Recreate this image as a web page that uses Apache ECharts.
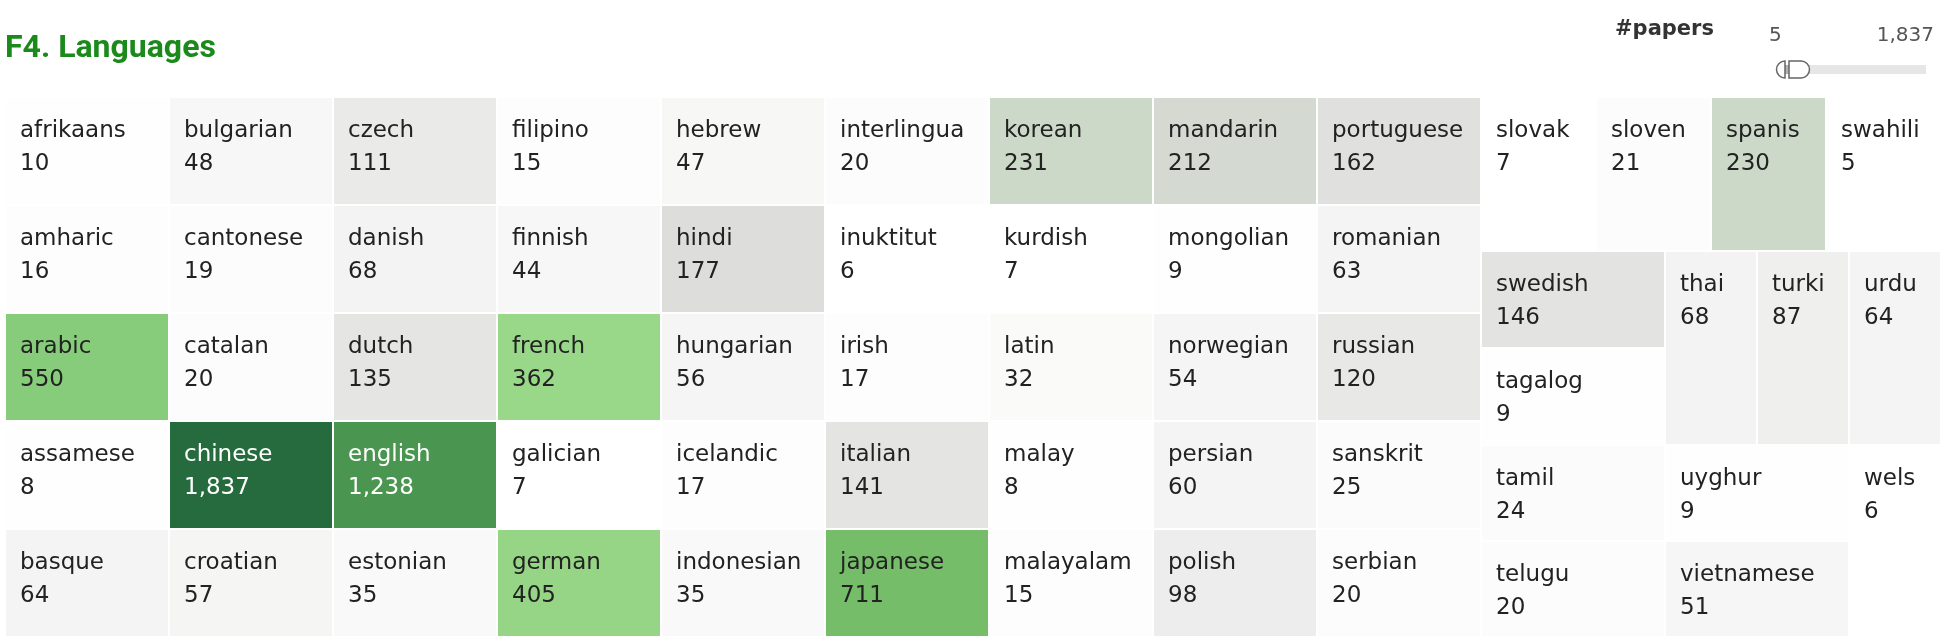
<!DOCTYPE html>
<html><head><meta charset="utf-8">
<script src="https://cdn.jsdelivr.net/npm/echarts@6/dist/echarts.min.js"></script>
<style>html,body{margin:0;padding:0;background:#fff}#c{width:1946px;height:642px}</style>
</head><body><div id="c"></div>
<script>
// ---- data ----
const languages = [
  'afrikaans','amharic','arabic','assamese','basque',
  'bulgarian','cantonese','catalan','chinese','croatian',
  'czech','danish','dutch','english','estonian',
  'filipino','finnish','french','galician','german',
  'hebrew','hindi','hungarian','icelandic','indonesian',
  'interlingua','inuktitut','irish','italian','japanese',
  'korean','kurdish','latin','malay','malayalam',
  'mandarin','mongolian','norwegian','persian','polish',
  'portuguese','romanian','russian','sanskrit','serbian',
  'slovak','sloven','spanis','swahili','swedish','tagalog',
  'tamil','telugu','thai','turki','urdu','uyghur','vietnamese','wels'
];
const papers = [
  10, 16, 550, 8, 64,
  48, 19, 20, 1837, 57,
  111, 68, 135, 1238, 35,
  15, 44, 362, 7, 405,
  47, 177, 56, 17, 35,
  20, 6, 17, 141, 711,
  231, 7, 32, 8, 15,
  212, 9, 54, 60, 98,
  162, 63, 120, 25, 20,
  7, 21, 230, 5, 146, 9,
  24, 20, 68, 87, 64, 9, 51, 6
];
const legendTitle = '#papers';
const legendTicks = ['5', '1,837'];
const chartTitle = 'F4. Languages';

// ---- layout (treemap-like blocks, positions are layout, not data) ----
const blocks = [
  { names: languages.slice(0, 45), cols: 9, rows: 5, left: 5, top: 97, cw: 164, rh: 108, order: 'col' },
  { names: ['slovak','sloven','spanis','swahili'], cols: 4, rows: 1, left: 1481, top: 97, cw: 115, rh: 154, order: 'row' },
  { names: ['swedish','tagalog'], cols: 1, rows: 2, left: 1481, top: 251, cw: 184, rh: 97, order: 'col' },
  { names: ['thai','turki','urdu'], cols: 3, rows: 1, left: 1665, top: 251, cw: 92, rh: 194, order: 'row' },
  { names: ['tamil','telugu'], cols: 1, rows: 2, left: 1481, top: 445, cw: 184, rh: 96, order: 'col' },
  { names: ['uyghur','vietnamese'], cols: 1, rows: 2, left: 1665, top: 445, cw: 184, rh: 96, order: 'col' },
  { names: ['wels'], cols: 1, rows: 1, left: 1849, top: 445, cw: 92, rh: 96, order: 'col' }
];

// ---- colour scale (style) ----
const colorStops = [
  [5, [255,255,255]], [200, [216,217,215]], [231, [205,217,200]], [362, [154,216,137]],
  [405, [149,213,133]], [550, [135,204,122]], [711, [118,189,106]], [1238, [74,150,80]], [1837, [37,107,61]]
];
function colorFor(v) {
  if (v <= colorStops[0][0]) return 'rgb(' + colorStops[0][1].join(',') + ')';
  for (let i = 1; i < colorStops.length; i++) {
    if (v <= colorStops[i][0]) {
      const a = colorStops[i - 1][0], ca = colorStops[i - 1][1], b = colorStops[i][0], cb = colorStops[i][1];
      const t = (v - a) / (b - a);
      return 'rgb(' + ca.map((c, k) => Math.round(c + (cb[k] - c) * t)).join(',') + ')';
    }
  }
  return 'rgb(' + colorStops[colorStops.length - 1][1].join(',') + ')';
}

const FONT = 'DejaVu Sans';
const grids = [], xAxes = [], yAxes = [], series = [];
blocks.forEach((b, bi) => {
  grids.push({ left: b.left, top: b.top, width: b.cols * b.cw, height: b.rows * b.rh, containLabel: false });
  xAxes.push({ type: 'category', gridIndex: bi, data: Array.from({length: b.cols}, (_, i) => String(i)), show: false, boundaryGap: true });
  yAxes.push({ type: 'category', gridIndex: bi, data: Array.from({length: b.rows}, (_, i) => String(i)), show: false, inverse: true, boundaryGap: true });
  const data = b.names.map((n, i) => {
    const idx = languages.indexOf(n);
    const col = b.order === 'col' ? Math.floor(i / b.rows) : i % b.cols;
    const row = b.order === 'col' ? i % b.rows : Math.floor(i / b.cols);
    return [col, row, papers[idx], idx];
  });
  series.push({
    type: 'custom', xAxisIndex: bi, yAxisIndex: bi,
    encode: { x: 0, y: 1 },
    data: data,
    renderItem: function (params, api) {
      const col = api.value(0), row = api.value(1), v = api.value(2), idx = api.value(3);
      const c = api.coord([col, row]);
      const s = api.size([col, row]);
      const x = c[0] - s[0] / 2 + 1, y = c[1] - s[1] / 2 + 1;
      const w = s[0] - 2, h = s[1] - 2;
      const txtColor = v >= 1000 ? '#ffffff' : '#222222';
      return {
        type: 'group',
        children: [
          { type: 'rect', shape: { x: x, y: y, width: w, height: h }, style: { fill: colorFor(v) } },
          { type: 'text', style: {
              x: x + 14, y: y + 16.5,
              text: languages[idx] + '\n' + v.toLocaleString('en-US'),
              font: '23px "' + FONT + '"', fill: txtColor,
              lineHeight: 33, verticalAlign: 'top', align: 'left'
          } }
        ]
      };
    }
  });
});

const chart = echarts.init(document.getElementById('c'), null, { renderer: 'canvas' });
chart.setOption({
  animation: false,
  backgroundColor: '#ffffff',
  title: { text: chartTitle, left: 5, top: 33, padding: 0,
    textStyle: { fontFamily: 'Roboto', fontSize: 32, fontWeight: 'bold', color: '#1b8a1b' } },
  grid: grids, xAxis: xAxes, yAxis: yAxes, series: series,
  graphic: { elements: [
    { type: 'text', x: 1615, y: 30, style: { text: legendTitle, font: 'bold 21px "DejaVu Sans"', fill: '#333333', verticalAlign: 'middle', align: 'left' } },
    { type: 'text', x: 1769, y: 36, style: { text: legendTicks[0], font: '20px "DejaVu Sans"', fill: '#555555', verticalAlign: 'middle', align: 'left' } },
    { type: 'text', x: 1934, y: 36, style: { text: legendTicks[1], font: '20px "DejaVu Sans"', fill: '#555555', verticalAlign: 'middle', align: 'right' } },
    { type: 'rect', shape: { x: 1783, y: 65, width: 143, height: 9 }, style: { fill: '#e6e6e6' } },
    { type: 'rect', shape: { x: 1784, y: 65, width: 6, height: 9 }, style: { fill: '#b3b3b3' } },
    { type: 'sector', shape: { cx: 1785, cy: 69.5, r: 8.5, startAngle: Math.PI / 2, endAngle: Math.PI * 3 / 2, clockwise: true }, style: { fill: '#ffffff', stroke: '#666666', lineWidth: 1.5 } },
    { type: 'rect', shape: { x: 1789, y: 61, width: 12, height: 17 }, style: { fill: '#ffffff' } },
    { type: 'sector', shape: { cx: 1801, cy: 69.5, r: 8.5, startAngle: -Math.PI / 2, endAngle: Math.PI / 2, clockwise: true }, style: { fill: '#ffffff', stroke: null } },
    { type: 'arc', shape: { cx: 1801, cy: 69.5, r: 8.5, startAngle: -Math.PI / 2, endAngle: Math.PI / 2, clockwise: true }, style: { fill: null, stroke: '#666666', lineWidth: 1.5 } },
    { type: 'polyline', shape: { points: [[1801, 61], [1789, 61], [1789, 78], [1801, 78]] }, style: { fill: null, stroke: '#666666', lineWidth: 1.5 } }
  ] }
});
</script></body></html>
